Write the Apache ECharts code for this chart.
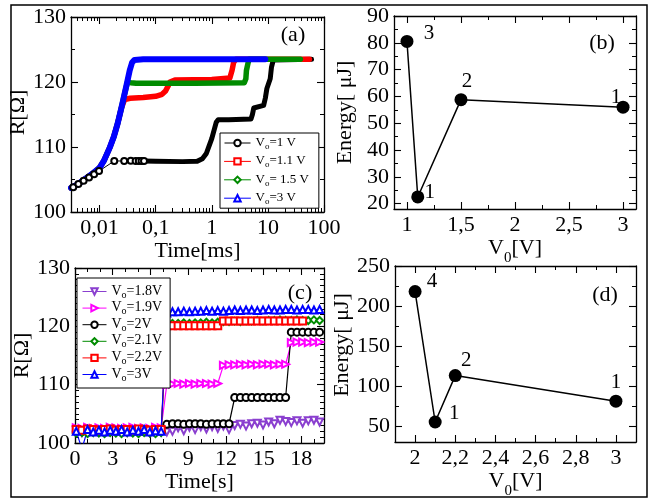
<!DOCTYPE html>
<html><head><meta charset="utf-8">
<script src="https://cdn.jsdelivr.net/npm/echarts@6/dist/echarts.min.js"></script>
<style>html,body{margin:0;padding:0;background:#fff}#c{width:652px;height:498px}</style>
</head><body><div id="c"></div>
<script>
const FONT = 'Liberation Serif';

// ---------- Panel (a): R vs Time[ms] (log) ----------
const namesA = ['V0=1 V', 'V0=1.1 V', 'V0= 1.5 V', 'V0=3 V'];
const blackA_pts = [[0.0034,103.8],[0.0042,104.3],[0.0052,104.8],[0.0065,105.3],[0.008,105.8],[0.0098,106.3],[0.0183,107.85],[0.0275,107.85],[0.036,107.9],[0.044,107.85],[0.05,107.85],[0.056,107.85],[0.062,107.85]];
const blackA = [[0.062,107.85],[0.1,107.8],[0.3,107.75],[0.55,107.8],[0.68,108.2],[0.8,109],[0.9,110.2],[1.0,111.3],[1.1,112.6],[1.2,113.8],[1.3,114.2],[2,114.2],[5,114.3],[5.3,115],[5.6,116],[6,116.3],[8.4,116.4],[9,117.5],[9.6,119],[10.4,119.2],[11,120.5],[11.6,122.3],[12.5,123.4],[60,123.5]];
const redA = [[0.0031,103.7],[0.004,104.2],[0.005,104.8],[0.0065,105.5],[0.008,106.1],[0.01,106.8],[0.012,107.9],[0.0152,109.9],[0.018,111.6],[0.021,113.6],[0.0245,116.0],[0.028,117.3],[0.035,117.5],[0.06,117.6],[0.1,117.8],[0.13,118.1],[0.15,118.6],[0.165,119.3],[0.18,120.0],[0.22,120.3],[1,120.4],[2.1,120.6],[2.3,121.8],[2.45,123],[2.7,123.5],[55,123.5]];
const greenA = [[0.0031,103.7],[0.004,104.2],[0.005,104.8],[0.0065,105.5],[0.008,106.1],[0.01,106.8],[0.012,107.9],[0.0152,109.9],[0.018,111.6],[0.021,113.6],[0.0245,116.0],[0.028,118.2],[0.0315,120.0],[0.036,119.9],[0.045,119.8],[0.5,119.8],[3.8,119.9],[4.05,120.5],[4.15,121.8],[4.3,122],[4.45,123],[4.6,123.5],[38,123.5]];
const blueA = [[0.0031,103.7],[0.004,104.2],[0.005,104.8],[0.0065,105.5],[0.008,106.1],[0.01,106.8],[0.012,107.9],[0.0152,109.9],[0.018,111.6],[0.021,113.6],[0.0245,116.0],[0.028,118.2],[0.0315,120.2],[0.0345,121.8],[0.038,123.0],[0.042,123.4],[0.06,123.5],[1,123.5],[9,123.5]];
const xMajorA = [0.01, 0.1, 1, 10, 100];
const xMinorA = [0.004,0.005,0.006,0.007,0.008,0.009,0.02,0.03,0.04,0.05,0.06,0.07,0.08,0.09,0.2,0.3,0.4,0.5,0.6,0.7,0.8,0.9,2,3,4,5,6,7,8,9,20,30,40,50,60,70,80,90];
const yMajorA = [100, 110, 120, 130];
const yMinorA = [105, 115, 125];

// ---------- Panel (b): Energy vs V0 ----------
const vB = [1, 1.1, 1.5, 3];
const eB = [80.5, 22.5, 58.8, 56];
const labB = ['3', '1', '2', '1'];
const xMajorB = [1, 1.5, 2, 2.5, 3];
const xMinorB = [1.25, 1.75, 2.25, 2.75];
const yMajorB = [20, 30, 40, 50, 60, 70, 80, 90];
const yMinorB = [25, 35, 45, 55, 65, 75, 85];

// ---------- Panel (c): R vs Time[s] ----------
const namesC = ['V0=1.8V', 'V0=1.9V', 'V0=2V', 'V0=2.1V', 'V0=2.2V', 'V0=3V'];
const tC = [0.1,0.55,1.0,1.45,1.9,2.35,2.8,3.25,3.7,4.15,4.6,5.05,5.5,5.95,6.4,6.85,7.3,7.75,8.2,8.65,9.1,9.55,10.0,10.45,10.9,11.35,11.8,12.25,12.7,13.15,13.6,14.05,14.5,14.95,15.4,15.85,16.3,16.75,17.2,17.65,18.1,18.55,19.0,19.45];
const r18 = [102.2,101.8,102.3,101.9,102.2,101.8,102.3,101.9,102.2,101.8,102.3,101.9,102.2,101.8,102.3,101.9,101.9,102.0,102.6,102.1,102.7,102.3,102.8,102.4,102.8,102.5,102.9,102.3,103.0,103.2,102.9,103.3,103.4,103.1,103.6,103.3,103.9,103.7,103.5,103.8,103.4,103.8,103.9,103.6];
const r19 = [102.6,102.5,102.7,102.5,102.6,102.5,102.7,102.6,102.5,102.6,102.7,102.5,102.6,102.5,102.7,102.6,110.0,110.1,110.2,110.1,110.2,110.1,110.2,110.2,110.1,110.2,113.3,113.4,113.4,113.5,113.4,113.5,113.4,113.5,113.5,113.4,113.5,113.5,117.2,117.3,117.3,117.2,117.3,117.3];
const r20 = [102.0,102.0,102.0,102.0,102.0,102.0,102.0,102.0,102.0,102.0,102.0,102.0,102.0,102.0,102.0,102.0,103.2,103.3,103.3,103.2,103.3,103.3,103.3,103.2,103.3,103.3,103.3,103.3,107.8,107.8,107.8,107.8,107.8,107.8,107.8,107.8,107.8,107.8,119.0,119.0,119.0,119.0,119.0,119.0];
const r21 = [101.7,101.8,101.6,101.8,101.7,101.6,101.8,101.7,101.6,101.8,101.7,101.6,101.8,101.7,101.6,101.8,120.4,120.5,120.5,120.6,120.5,120.6,120.6,120.7,120.6,120.7,120.8,120.8,120.9,120.8,120.9,120.9,121.0,120.9,121.0,121.0,121.1,121.0,121.0,121.1,121.0,121.0,121.1,121.0];
const r22 = [102.3,102.2,102.4,102.3,102.2,102.3,102.4,102.2,102.3,102.3,102.2,102.4,102.3,102.2,102.3,102.3,120.1,120.1,120.1,120.1,120.1,120.1,120.1,120.1,120.1,120.1,120.9,120.9,120.9,120.9,120.9,120.9,120.9,120.9,120.9,120.9,120.9,120.9,120.9,120.9,120.9,null,null,null];
const r30 = [102.0,99.0,102.3,101.9,102.2,101.9,102.2,102.0,102.3,101.9,102.2,102.0,102.3,101.9,102.1,102.0,122.3,122.5,122.5,122.6,122.5,122.6,122.6,122.7,122.6,122.7,122.6,122.7,122.8,122.7,122.8,122.8,122.7,122.8,122.9,122.8,122.8,122.9,122.9,122.8,122.9,122.9,122.8,122.9];
const xMajorC = [0, 3, 6, 9, 12, 15, 18];
const xMinorC = [1,2,4,5,7,8,10,11,13,14,16,17,19];
const yMajorC = [100, 110, 120, 130];
const yMinorC = [101,102,103,104,105,106,107,108,109,111,112,113,114,115,116,117,118,119,121,122,123,124,125,126,127,128,129];

// ---------- Panel (d): Energy vs V0 ----------
const vD = [2, 2.1, 2.2, 3];
const eD = [218, 55, 113, 81];
const labD = ['4', '1', '2', '1'];
const xMajorD = [2, 2.2, 2.4, 2.6, 2.8, 3];
const xMinorD = [2.1, 2.3, 2.5, 2.7, 2.9];
const yMajorD = [50, 100, 150, 200, 250];
const yMinorD = [75, 125, 175, 225];

// ---------- styling helpers ----------
const fmt = v => String(v).replace('.', ',');
function nameStyle(pad) {
  return {
    fontFamily: FONT, fontSize: 22, color: '#000', padding: pad || 0,
    rich: {
      n: { fontFamily: FONT, fontSize: 22, color: '#000', verticalAlign: 'top', lineHeight: 24 },
      s: { fontFamily: FONT, fontSize: 15, color: '#000', verticalAlign: 'top', lineHeight: 15, padding: [14, 0, 0, 0] }
    }
  };
}
function mkAxes(dim, g, c) {
  const pos = dim === 'x' ? ['bottom', 'top'] : ['left', 'right'];
  const out = [];
  pos.forEach((p, i) => {
    const base = { gridIndex: g, type: c.type || 'value', min: c.min, max: c.max, position: p,
      splitLine: { show: false }, silent: true };
    if (c.type === 'log') base.logBase = 10;
    out.push(Object.assign({}, base, {
      axisLine: { show: true, onZero: false, lineStyle: { color: '#000', width: 1.3 } },
      axisTick: { show: true, inside: true, length: 7, customValues: c.major, lineStyle: { color: '#000', width: 1.1 } },
      axisLabel: i === 0 ? { show: true, customValues: c.major, formatter: fmt, color: '#000', fontFamily: FONT, fontSize: 22, margin: 5 } : { show: false },
      name: i === 0 ? c.name : '', nameLocation: 'middle', nameGap: c.gap, nameTextStyle: nameStyle(c.pad)
    }));
    out.push(Object.assign({}, base, {
      axisLine: { show: false, onZero: false },
      axisTick: { show: true, inside: true, length: 4, customValues: c.minor, lineStyle: { color: '#000', width: 1 } },
      axisLabel: { show: false }
    }));
  });
  return out;
}
const vName = '{n|V}{s|0}{n|[V]}';
const xAxes = [].concat(
  mkAxes('x', 0, { type: 'log', min: 0.0031, max: 100, major: xMajorA, minor: xMinorA, name: 'Time[ms]', gap: 26 }),
  mkAxes('x', 1, { min: 0.88, max: 3.12, major: xMajorB, minor: xMinorB, name: vName, gap: 25 }),
  mkAxes('x', 2, { min: 0, max: 19.8, major: xMajorC, minor: xMinorC, name: 'Time[s]', gap: 23 }),
  mkAxes('x', 3, { min: 1.9, max: 3.1, major: xMajorD, minor: xMinorD, name: vName, gap: 24 })
);
const yAxes = [].concat(
  mkAxes('y', 0, { min: 100, max: 130, major: yMajorA, minor: yMinorA, name: 'R[Ω]', gap: 36, pad: [0, 0, 0, 4] }),
  mkAxes('y', 1, { min: 18, max: 90, major: yMajorB, minor: yMinorB, name: 'Energy[ μJ]', gap: 38 }),
  mkAxes('y', 2, { min: 100, max: 130, major: yMajorC, minor: yMinorC, name: 'R[Ω]', gap: 40 }),
  mkAxes('y', 3, { min: 30, max: 250, major: yMajorD, minor: yMinorD, name: 'Energy[ μJ]', gap: 40, pad: [0, 0, 0, 18] })
);

// ---------- series ----------
function band(name, data, color, symbol, width, rotate) {
  return { type: 'line', name, data, xAxisIndex: 0, yAxisIndex: 0, color, symbol, symbolRotate: rotate || 0,
    showSymbol: false, symbolSize: 5, lineStyle: { color, width, cap: 'round', join: 'round' }, silent: true };
}
const series = [];
series.push({ type: 'line', name: namesA[0], data: blackA_pts, xAxisIndex: 0, yAxisIndex: 0, color: '#000',
  symbol: 'emptyCircle', symbolSize: 6, itemStyle: { color: '#000', borderWidth: 1.3 },
  lineStyle: { color: '#000', width: 1 }, silent: true });
series.push(band(namesA[0], blackA, '#000', 'emptyCircle', 5));
series.push(band(namesA[1], redA, '#ff0000', 'emptyRect', 5.5));
series.push(band(namesA[2], greenA, '#008b00', 'emptyDiamond', 5.5));
series.push(band(namesA[3], blueA, '#0000ff', 'emptyTriangle', 6));

const offB = [[22, -8], [12, -4], [6, -18], [-7, -10]];
const offD = [[17, -10], [19, -9], [11, -15], [0, -19]];
function energySeries(g, vs, es, labs, offs) {
  return { type: 'line', xAxisIndex: 4 * g, yAxisIndex: 4 * g, silent: true,
    data: vs.map((v, i) => ({ value: [v, es[i]], label: { offset: offs[i] } })),
    symbol: 'circle', symbolSize: 13, itemStyle: { color: '#000' }, lineStyle: { color: '#000', width: 1.5 },
    label: { show: true, position: 'inside', formatter: p => labs[p.dataIndex], fontFamily: FONT, fontSize: 21, color: '#000' } };
}
series.push(energySeries(1, vB, eB, labB, offB));
series.push(energySeries(3, vD, eD, labD, offD));

const cSeries = [
  [namesC[0], r18, '#8a3fcf', 'emptyTriangle', 180],
  [namesC[1], r19, '#ff00ff', 'emptyTriangle', -90],
  [namesC[2], r20, '#000000', 'emptyCircle', 0],
  [namesC[3], r21, '#008b00', 'emptyDiamond', 0],
  [namesC[4], r22, '#ff0000', 'emptyRect', 0],
  [namesC[5], r30, '#0000ff', 'emptyTriangle', 0]
];
cSeries.forEach(([name, vals, color, sym, rot]) => {
  series.push({ type: 'line', name, xAxisIndex: 8, yAxisIndex: 8, silent: true, color,
    data: tC.map((t, i) => [t, vals[i]]), connectNulls: false, clip: true,
    symbol: sym, symbolRotate: rot, symbolSize: 7, itemStyle: { color, borderWidth: 1.3 },
    lineStyle: { color, width: 1.2 } });
});

function legendText(fs, sp) {
  return {
    fontFamily: FONT, fontSize: fs, color: '#000',
    rich: {
      n: { fontFamily: FONT, fontSize: fs, color: '#000', verticalAlign: 'top', lineHeight: fs + 1 },
      s: { fontFamily: FONT, fontSize: fs - 4, color: '#000', verticalAlign: 'top', lineHeight: fs - 4, padding: [sp, 0, 0, 0] }
    }
  };
}
const legFmt = n => '{n|V}{s|o}{n|' + n.slice(2) + '}';

const chart = echarts.init(document.getElementById('c'), null, { renderer: 'canvas' });
chart.setOption({
  animation: false,
  backgroundColor: '#fff',
  grid: [
    { left: 71, top: 17, width: 253, height: 195, outerBoundsMode: 'none' },
    { left: 394, top: 16, width: 242, height: 193, outerBoundsMode: 'none' },
    { left: 75, top: 268, width: 249, height: 175, outerBoundsMode: 'none' },
    { left: 395, top: 266, width: 241, height: 176, outerBoundsMode: 'none' }
  ],
  xAxis: xAxes,
  yAxis: yAxes,
  legend: [
    { data: namesA, left: 220, top: 133, orient: 'vertical', formatter: legFmt, textStyle: legendText(13, 6),
      backgroundColor: '#fff', borderColor: '#000', borderWidth: 1, borderRadius: 0, padding: [3, 10, 2, 4],
      itemWidth: 26, itemHeight: 8, itemGap: 3.4, lineStyle: { width: 1 }, selectedMode: false, z: 10 },
    { data: namesC, left: 77, top: 278, orient: 'vertical', formatter: legFmt, textStyle: legendText(14, 6),
      backgroundColor: '#fff', borderColor: '#000', borderWidth: 1, borderRadius: 0, padding: [6, 8, 5, 5],
      itemWidth: 24, itemHeight: 8, itemGap: 0.6, lineStyle: { width: 1 }, selectedMode: false, z: 10 }
  ],
  graphic: [
    { type: 'rect', shape: { x: 11, y: 5, width: 636, height: 492 }, style: { fill: 'none', stroke: '#000', lineWidth: 1.5 }, silent: true, z: 100 },
    { type: 'text', x: 293, y: 35, style: { text: '(a)', fontFamily: FONT, fontSize: 22, fill: '#000', align: 'center', verticalAlign: 'middle' } },
    { type: 'text', x: 602, y: 43, style: { text: '(b)', fontFamily: FONT, fontSize: 22, fill: '#000', align: 'center', verticalAlign: 'middle' } },
    { type: 'text', x: 300, y: 293, style: { text: '(c)', fontFamily: FONT, fontSize: 22, fill: '#000', align: 'center', verticalAlign: 'middle' } },
    { type: 'text', x: 605, y: 295, style: { text: '(d)', fontFamily: FONT, fontSize: 22, fill: '#000', align: 'center', verticalAlign: 'middle' } }
  ],
  series
});
</script></body></html>
